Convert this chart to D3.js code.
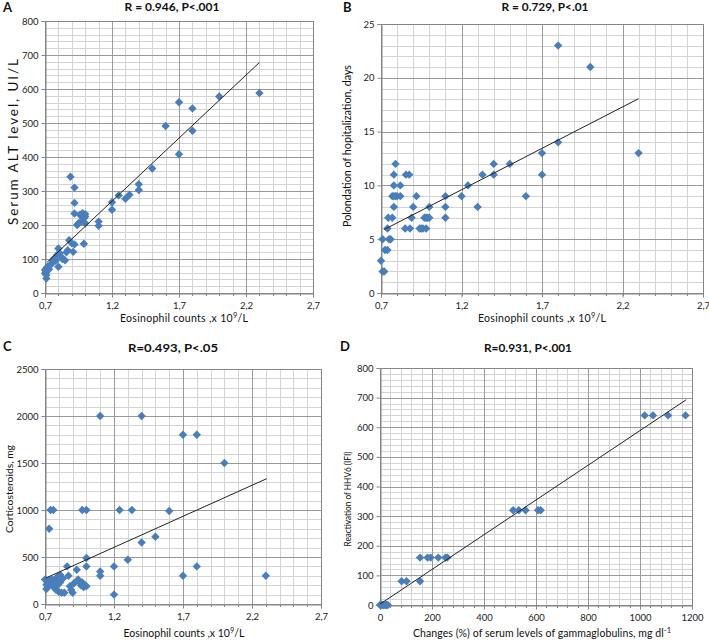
<!DOCTYPE html>
<html><head><meta charset="utf-8">
<script src="https://cdn.jsdelivr.net/npm/d3@7"></script>
<style>body{margin:0;background:#fff;} svg{display:block;font-family:Lato,"Open Sans",sans-serif;}</style>
</head><body><svg id="c" width="709" height="640"></svg>
<script>
// ---------- DATA ----------
const eosTicks = [0.7, 1.2, 1.7, 2.2, 2.7];
const eosTickLabels = ["0,7", "1,2", "1,7", "2,2", "2,7"];

// Panel A: Eosinophil counts vs Serum ALT
const altEos = [0.71,0.71,0.70,0.71,0.70,0.71,0.72,0.73,0.74,0.75,0.76,0.76,0.77,0.78,0.79,0.80,0.80,0.81,0.82,0.83,0.85,0.86,0.87,0.88,0.90,0.91,0.92,0.89,0.92,0.92,0.92,0.94,0.95,0.96,0.97,0.98,0.99,1.0,1.0,1.0,0.99,1.1,1.1,1.2,1.2,1.25,1.3,1.33,1.4,1.4,1.5,1.6,1.7,1.7,1.8,1.8,2.0,2.3];
const altVal = [43,53,58,63,68,73,77,70,82,87,92,97,102,95,112,131,77,117,107,100,96,120,126,155,146,121,143,342,310,265,234,200,205,230,210,235,220,225,205,232,145,210,198,267,245,287,277,289,320,303,366,491,561,408,543,477,578,588];
const altTrend = [[0.717, 91], [2.3, 678]];
const altTicks = [0,100,200,300,400,500,600,700,800];

// Panel B: Eosinophil counts vs prolongation of hospitalization
const hospEos = [1.8,2.0,2.3,1.8,1.7,1.7,1.6,1.5,1.4,1.4,1.33,1.3,1.24,1.2,1.1,1.1,1.1,1.0,1.0,0.99,0.98,0.97,0.98,0.96,0.95,0.94,0.92,0.90,0.89,0.88,0.85,0.875,0.855,0.82,0.79,0.78,0.78,0.77,0.78,0.79,0.80,0.82,0.78,0.77,0.745,0.74,0.75,0.76,0.71,0.74,0.725,0.70,0.71,0.72];
const hospDays = [23,21,13,14,13,11,9,12,12,11,11,8,10,9,9,8,7,8,7,7,7,7,6,6,6,6,9,8,7,6,6,11,11,10,12,11,10,9,9,9,9,9,8,7,7,6,5,5,5,4,4,3,2,2];
const hospTrend = [[0.72, 5.9], [2.3, 18.06]];
const hospTicks = [0,5,10,15,20,25];

// Panel C: Eosinophil counts vs corticosteroids
const cortEos = [0.70,0.71,0.71,0.72,0.72,0.73,0.74,0.75,0.75,0.76,0.77,0.77,0.78,0.78,0.79,0.79,0.80,0.81,0.81,0.82,0.83,0.84,0.86,0.87,0.88,0.89,0.90,0.91,0.93,0.94,0.95,0.96,0.97,0.98,0.99,1.0,1.0,1.0,0.73,0.74,0.76,0.97,1.0,1.1,1.1,1.1,1.2,1.2,1.24,1.3,1.33,1.4,1.4,1.5,1.6,1.7,1.7,1.8,1.8,2.0,2.3];
const cortMg = [260,206,160,230,180,250,220,260,200,185,240,210,150,270,200,290,130,310,230,120,270,120,400,300,190,150,120,220,365,260,240,200,230,180,200,190,490,400,800,1000,1000,1000,1000,2000,345,300,400,100,1000,470,1000,2000,655,715,990,1800,300,1800,400,1500,300];
const cortTrend = [[0.707, 277], [2.306, 1333]];
const cortTicks = [0,500,1000,1500,2000,2500];

// Panel D: Gammaglobulin changes vs HHV6 reactivation
const gammaChange = [0,5,10,15,20,25,30,83,102,154,154,183,195,224,252,259,512,534,560,608,618,1018,1050,1108,1175];
const hhv6 = [0,0,0,0,0,0,0,80,80,80,160,160,160,160,160,160,320,320,320,320,320,640,640,640,640];
const gammaTrend = [[0, 3], [1178, 693]];
const gammaXTicks = [0,200,400,600,800,1000,1200];
const hhv6Ticks = [0,100,200,300,400,500,600,700,800];

// ---------- LAYOUT ----------
const svg = d3.select("#c");
const panels = [
  { letter:"A", lx:3, ly:12, title:"R = 0.946, P<.001", tx:172, ty:11, tw:95,
    box:{l:45,r:313,t:21,b:293}, xd:[0.7,2.7], yd:[0,800],
    xMinor:0.1, yMinor:20, xTicks:eosTicks, xLabels:eosTickLabels, yTicks:altTicks,
    xs:altEos, ys:altVal, trend:altTrend,
    xlab:["Eosinophil counts ,x 10","9","/L"], xlx:184, xly:322, xlw:128,
    ylab:"Serum  ALT level, UI/L", ylx:18, yly:142, ylw:166, yfs:13.5, yadj:"spacing" },
  { letter:"B", lx:343, ly:12, title:"R = 0.729, P<.01", tx:545, ty:11, tw:87,
    box:{l:381,r:703,t:24,b:293}, xd:[0.7,2.7], yd:[0,25],
    xMinor:0.1, yMinor:1, xTicks:eosTicks, xLabels:eosTickLabels, yTicks:hospTicks,
    xs:hospEos, ys:hospDays, trend:hospTrend,
    xlab:["Eosinophil counts ,x 10","9","/L"], xlx:542, xly:322, xlw:128,
    ylab:"Polondation of hopitalization, days", ylx:351, yly:146, ylw:162, yfs:10.5, yadj:"spacingAndGlyphs" },
  { letter:"C", lx:3, ly:351, title:"R=0.493, P<.05", tx:173, ty:352, tw:90,
    box:{l:45,r:321,t:369,b:604}, xd:[0.7,2.7], yd:[0,2500],
    xMinor:0.1, yMinor:100, xTicks:eosTicks, xLabels:eosTickLabels, yTicks:cortTicks,
    xs:cortEos, ys:cortMg, trend:cortTrend,
    xlab:["Eosinophil counts ,x 10","9","/L"], xlx:184, xly:637, xlw:121,
    ylab:"Corticosteroids, mg", ylx:13, yly:489, ylw:88, yfs:10, yadj:"spacingAndGlyphs" },
  { letter:"D", lx:340, ly:351, title:"R=0.931, P<.001", tx:528, ty:352, tw:88,
    box:{l:380,r:692,t:368,b:605}, xd:[0,1200], yd:[0,800],
    xMinor:40, yMinor:20, xTicks:gammaXTicks, xLabels:gammaXTicks.map(String), yTicks:hhv6Ticks,
    xs:gammaChange, ys:hhv6, trend:gammaTrend,
    xlab:["Changes (%) of serum  levels of gammaglobulins, mg  dl","-1",""], xlx:542, xly:637, xlw:258,
    ylab:"Reactivation of HHV6 (IFI)", ylx:351, yly:499, ylw:95, yfs:9.5, yadj:"spacingAndGlyphs" }
];

const MARK = "#4A7EBB";
function range(a, b, s){ const out=[]; const n=Math.round((b-a)/s); for(let i=0;i<=n;i++) out.push(a+i*s); return out; }

panels.forEach(p => {
  const x = d3.scaleLinear().domain(p.xd).range([p.box.l, p.box.r]);
  const y = d3.scaleLinear().domain(p.yd).range([p.box.b, p.box.t]);
  const g = svg.append("g");

  // minor grid
  const xm = range(p.xd[0], p.xd[1], p.xMinor);
  const ym = range(p.yd[0], p.yd[1], p.yMinor);
  g.selectAll(".vm").data(xm).enter().append("line")
    .attr("x1", d=>Math.round(x(d))+0.5).attr("x2", d=>Math.round(x(d))+0.5)
    .attr("y1", p.box.t).attr("y2", p.box.b).attr("stroke", "#d4d4d4").attr("stroke-width", 1);
  g.selectAll(".hm").data(ym).enter().append("line")
    .attr("y1", d=>Math.round(y(d))+0.5).attr("y2", d=>Math.round(y(d))+0.5)
    .attr("x1", p.box.l).attr("x2", p.box.r).attr("stroke", "#d4d4d4").attr("stroke-width", 1);
  // major grid
  g.selectAll(".vM").data(p.xTicks).enter().append("line")
    .attr("x1", d=>Math.round(x(d))+0.5).attr("x2", d=>Math.round(x(d))+0.5)
    .attr("y1", p.box.t).attr("y2", p.box.b).attr("stroke", "#9a9a9a").attr("stroke-width", 1);
  g.selectAll(".hM").data(p.yTicks).enter().append("line")
    .attr("y1", d=>Math.round(y(d))+0.5).attr("y2", d=>Math.round(y(d))+0.5)
    .attr("x1", p.box.l).attr("x2", p.box.r).attr("stroke", "#9a9a9a").attr("stroke-width", 1);

  // axes (ticks + labels)
  const xAxis = d3.axisBottom(x).tickValues(p.xTicks).tickFormat((d,i)=>p.xLabels[i]).tickSize(4).tickPadding(5);
  const xa = g.append("g").attr("transform", `translate(0,${Math.round(p.box.b)+0.5})`).call(xAxis);
  const yAxis = d3.axisLeft(y).tickValues(p.yTicks).tickFormat(d3.format("d")).tickSize(4).tickPadding(3);
  const ya = g.append("g").attr("transform", `translate(${Math.round(p.box.l)+0.5},0)`).call(yAxis);
  [xa, ya].forEach(a => {
    a.select(".domain").attr("stroke", "#868686");
    a.selectAll(".tick line").attr("stroke", "#868686");
    a.selectAll("text").attr("fill", "#222").style("font-size", "9.5px").style("font-family", "Lato,'Open Sans',sans-serif");
  });
  // minor ticks on x axis
  g.selectAll(".xmt").data(xm).enter().append("line")
    .attr("x1", d=>Math.round(x(d))+0.5).attr("x2", d=>Math.round(x(d))+0.5)
    .attr("y1", p.box.b).attr("y2", p.box.b+3).attr("stroke", "#868686");
  // plot border
  g.append("rect").attr("x", Math.round(p.box.l)+0.5).attr("y", Math.round(p.box.t)+0.5)
    .attr("width", Math.round(p.box.r)-Math.round(p.box.l)).attr("height", Math.round(p.box.b)-Math.round(p.box.t))
    .attr("fill", "none").attr("stroke", "#868686");

  // points (diamonds)
  const pts = p.xs.map((v,i)=>({x:v, y:p.ys[i]}));
  g.selectAll(".pt").data(pts).enter().append("path")
    .attr("d", "M0,-4.2L4.2,0L0,4.2L-4.2,0Z")
    .attr("transform", d=>`translate(${x(d.x)},${y(d.y)})`)
    .attr("fill", MARK);

  // trend line
  g.append("line")
    .attr("x1", x(p.trend[0][0])).attr("y1", y(p.trend[0][1]))
    .attr("x2", x(p.trend[1][0])).attr("y2", y(p.trend[1][1]))
    .attr("stroke", "#222").attr("stroke-width", 1);

  // panel letter
  svg.append("text").attr("x", p.lx).attr("y", p.ly).text(p.letter)
    .style("font-size", "13px").style("font-weight", "bold").attr("fill", "#111");
  // title
  svg.append("text").attr("x", p.tx).attr("y", p.ty).attr("text-anchor", "middle").text(p.title)
    .style("font-size", "11.5px").style("font-weight", "bold").attr("fill", "#111")
    .attr("textLength", p.tw).attr("lengthAdjust", "spacingAndGlyphs");
  // x label
  const xl = svg.append("text").attr("x", p.xlx).attr("y", p.xly).attr("text-anchor", "middle")
    .style("font-size", "10.5px").attr("fill", "#111");
  xl.append("tspan").text(p.xlab[0]);
  xl.append("tspan").attr("dy", -4).style("font-size", "7.5px").text(p.xlab[1]);
  if (p.xlab[2]) xl.append("tspan").attr("dy", 4).text(p.xlab[2]);
  xl.attr("textLength", p.xlw).attr("lengthAdjust", "spacing");
  // y label
  svg.append("text").attr("transform", `translate(${p.ylx},${p.yly}) rotate(-90)`)
    .attr("text-anchor", "middle").text(p.ylab)
    .style("font-size", p.yfs + "px").attr("fill", "#111")
    .attr("textLength", p.ylw).attr("lengthAdjust", p.yadj);
});
</script></body></html>
